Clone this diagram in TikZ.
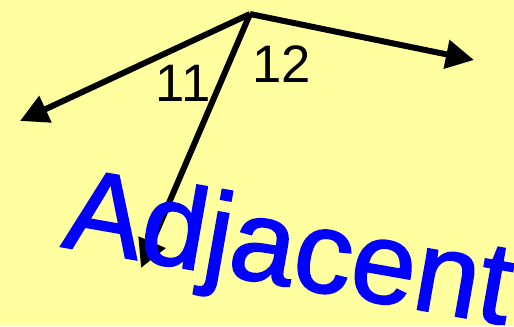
\documentclass[tikz,border=0pt]{standalone}
\usepackage{fontspec}
\setmainfont{Liberation Sans}
\newfontfamily\handfont[FakeBold=1.6]{Liberation Sans}
\usepackage{xcolor}
\usetikzlibrary{positioning, arrows.meta}
\definecolor{mYellow}{HTML}{FFFFA0}
\definecolor{mBlue}{HTML}{0000FF}

\begin{document}
\begin{tikzpicture}[
  ray/.style={draw=black, line width=1.7pt, -{Triangle[length=8pt, width=8pt]}},
  num/.style={font=\fontsize{15}{18}\selectfont, text=black, inner sep=0pt},
  word/.style={font=\handfont\fontsize{33}{36}\selectfont, text=mBlue, inner sep=0pt},
]
  \fill[mYellow] (0,0) rectangle (5.14,3.26);
  \useasboundingbox (0,0) rectangle (5.14,3.26);
  \clip (0,0) rectangle (5.14,3.26);

  \coordinate (vtx) at (2.50,3.12);
  \coordinate (endL) at (0.20,2.05);
  \coordinate (endR) at (4.74,2.66);
  \coordinate (endD) at (1.41,0.58);

  \draw[ray] (vtx) -- (endL);
  \draw[ray] (vtx) -- (endR);
  \draw[ray] (vtx) -- (endD);

  \node[num] (ang11) at (1.83,2.43) {11};
  \node[num] (ang12) at (2.82,2.62) {12};

  \node[word, rotate=-10] (adj) at (2.88,0.70) {Adjacent};
\end{tikzpicture}
\end{document}
